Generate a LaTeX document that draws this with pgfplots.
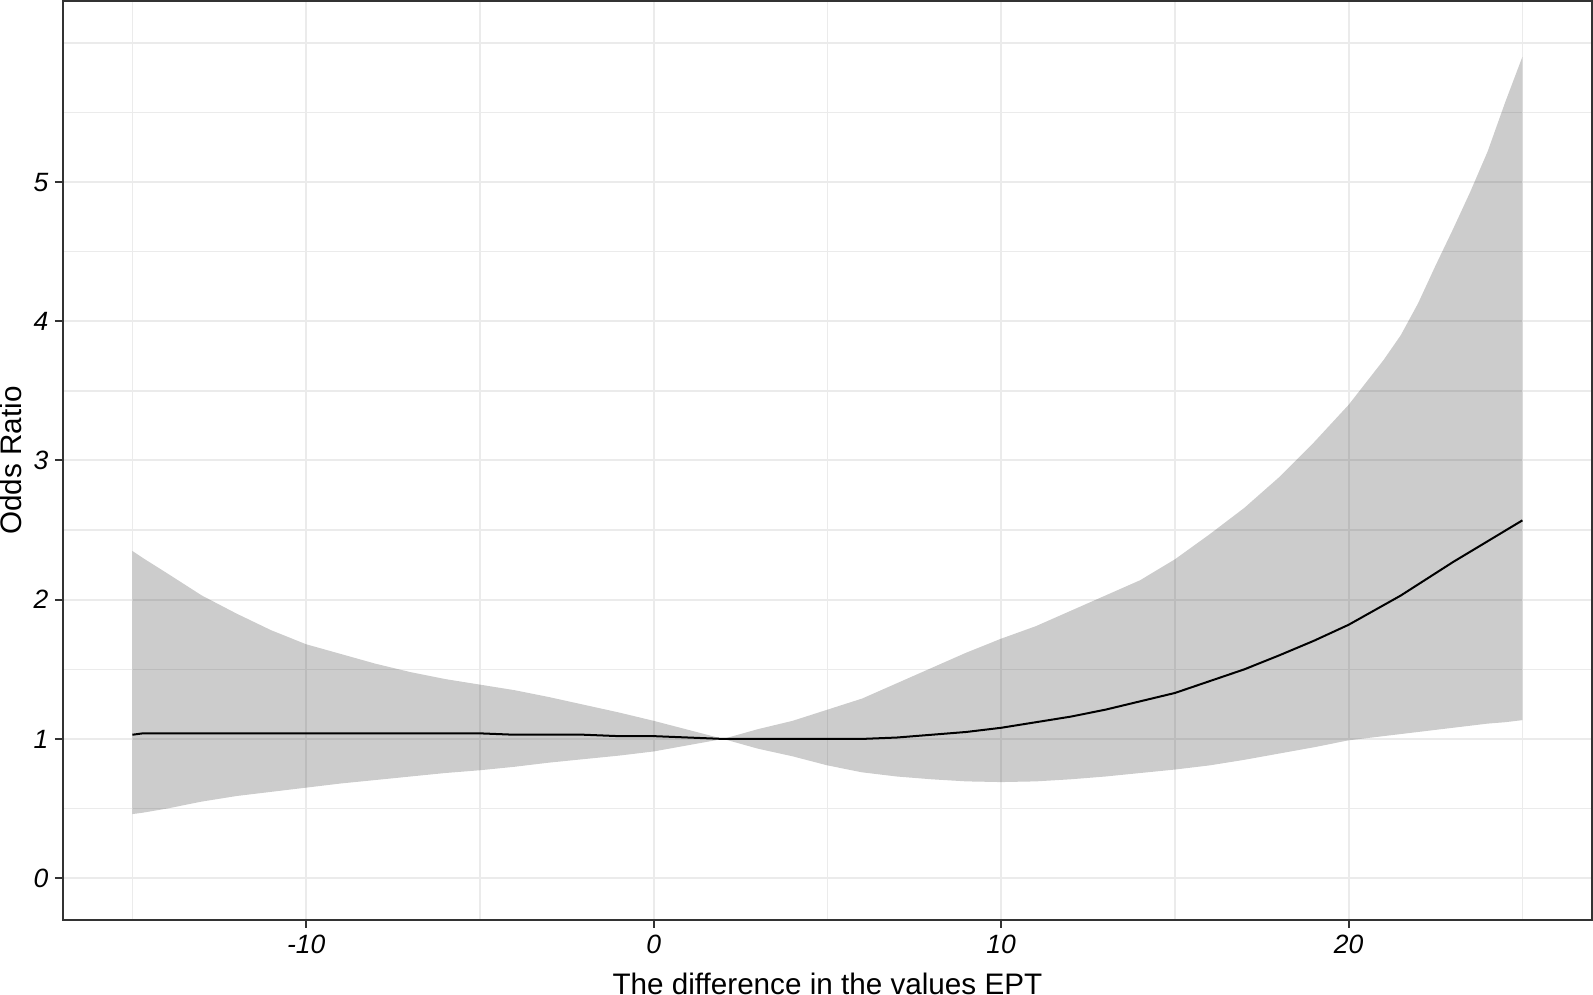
\documentclass[border=0pt]{standalone}
\usepackage{pgfplots}
\pgfplotsset{compat=1.18}
\usepackage{pgfplotstable}
\usepgfplotslibrary{fillbetween}
\usepackage{fontspec}
\setmainfont{Liberation Sans}
\definecolor{gridc}{HTML}{EBEBEB}
\definecolor{bord}{HTML}{333333}
\pgfplotstableread{
x lo hi mid
-15 0.46 2.35 1.03
-14.7 0.47 2.30 1.04
-14 0.50 2.19 1.04
-13 0.55 2.03 1.04
-12 0.59 1.90 1.04
-11 0.62 1.78 1.04
-10 0.65 1.68 1.04
-9 0.68 1.61 1.04
-8 0.705 1.54 1.04
-7 0.73 1.48 1.04
-6 0.755 1.43 1.04
-5 0.775 1.39 1.04
-4 0.80 1.35 1.03
-3 0.83 1.30 1.03
-2 0.855 1.245 1.03
-1 0.88 1.19 1.02
0 0.91 1.13 1.02
1 0.955 1.065 1.01
2 1.0 1.0 1.0
3 0.93 1.07 1.0
4 0.875 1.13 1.0
5 0.81 1.21 1.0
6 0.76 1.29 1.0
7 0.73 1.40 1.01
8 0.71 1.51 1.03
9 0.695 1.62 1.05
10 0.69 1.72 1.08
11 0.695 1.81 1.12
12 0.71 1.92 1.16
13 0.73 2.03 1.21
14 0.755 2.14 1.27
15 0.78 2.29 1.33
16 0.81 2.47 1.415
17 0.85 2.66 1.50
18 0.895 2.88 1.60
19 0.94 3.13 1.705
20 0.99 3.40 1.82
21 1.02 3.72 1.96
21.5 1.035 3.90 2.03
22 1.05 4.13 2.11
22.5 1.065 4.40 2.19
23 1.08 4.66 2.27
23.5 1.095 4.93 2.345
24 1.11 5.22 2.42
24.5 1.12 5.57 2.495
25 1.135 5.90 2.57
}\data
\begin{document}
\begin{tikzpicture}
\begin{axis}[
  scale only axis,
  width=763pt, height=458.5pt,
  xmin=-17, xmax=27, ymin=-0.3, ymax=6.3,
  xtick={-10,0,10,20}, xticklabels={-10,0,10,20},
  minor xtick={-15,-5,5,15,25},
  ytick={0,1,2,3,4,5}, yticklabels={0,1,2,3,4,5},
  minor ytick={0.5,1.5,2.5,3.5,4.5,5.5,6},
  grid=both,
  major grid style={color=gridc, line width=1pt},
  minor grid style={color=gridc, line width=0.8pt},
  axis line style={color=bord, line width=1.1pt},
  tick pos=left, tick align=outside,
  major tick length=4pt, minor tick length=0pt,
  tick style={color=bord, line width=1pt},
  ticklabel style={font=\fontsize{13.2}{15}\selectfont\itshape, text=black},
  xticklabel style={inner sep=0pt, yshift=-3.5pt},
  yticklabel style={inner sep=0pt, xshift=-3pt},
  xlabel={The difference in the values EPT},
  ylabel={Odds Ratio},
  label style={font=\fontsize{14.8}{16}\selectfont},
  xlabel style={at={(axis description cs:0.5,0)}, anchor=base, inner sep=0pt, outer sep=0pt, yshift=-37pt},
  ylabel style={at={(axis description cs:0,0.5)}, anchor=south, inner sep=0pt, outer sep=0pt, yshift=20.5pt},
]
\addplot[name path=up, draw=none] table[x=x, y=hi] {\data};
\addplot[name path=lo, draw=none] table[x=x, y=lo] {\data};
\addplot[fill=bord, fill opacity=0.25, draw=none] fill between[of=up and lo];
\addplot[black, line width=1pt] table[x=x, y=mid] {\data};
\end{axis}
\end{tikzpicture}
\end{document}
